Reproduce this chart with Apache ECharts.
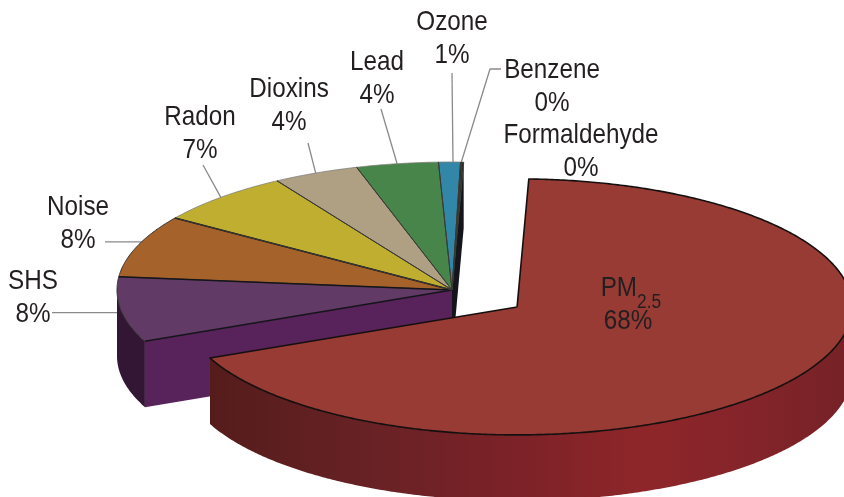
<!DOCTYPE html>
<html>
<head>
<meta charset="utf-8">
<script src="https://cdn.jsdelivr.net/npm/echarts@6/dist/echarts.min.js"></script>
<style>
html, body { margin: 0; padding: 0; background: #fff; }
#chart { width: 844px; height: 497px; }
</style>
</head>
<body>
<div id="chart"></div>
<script>
const categories = ['PM2.5', 'SHS', 'Noise', 'Radon', 'Dioxins', 'Lead', 'Ozone', 'Benzene', 'Formaldehyde']
const values = [67.9, 8.2, 7.85, 6.75, 4.15, 3.95, 1.05, 0.075, 0.075]
const percentLabels = ['68%', '8%', '8%', '7%', '4%', '4%', '1%', '0%', '0%']

// look of the slices
const topColors = ['#973b34', '#613a66', '#a5622b', '#bfae30', '#afa084', '#47854b', '#3287a8', '#14161c', '#14161c']
const wallColors = ['#7a2226', '#331634', '#6b3f1a', '#7a6f1f', '#70664f', '#2c5530', '#1f566b', '#14161c', '#14161c']
const cutFaceColors = { first: '#58225a', last: '#14161c' }

// pie projection
const cx = 452, cy = 290, rx = 335, ry = 128, depth = 66
const startAngle = 2.0, explode = 0.235

// where the texts sit
const labelX = [628, 33, 78, 200, 289, 377, 452, 552, 581]
const labelY = [288, 281, 207, 117, 89, 62, 22, 70, 135]
const leaderFrom = [null, [52, null], [105, null], [203, 165], [308, 143], [381, 109], [452, 73], [501, 69], null]
const leaderElbow = [null, null, null, null, null, null, null, [490, 69], null]
const leaderNudge = [0, -1.4, 2, 0, 0, 0, 0.6, 0, 0]

const font = '"Liberation Sans", sans-serif'
const textScale = 0.866
const total = values.reduce((a, b) => a + b, 0)

const angles = []
let acc = startAngle
values.forEach(v => {
  const span = v / total * 360
  angles.push([acc, acc + span])
  acc += span
})

const rad = d => d * Math.PI / 180
const rim = (x0, y0, t) => [x0 + rx * Math.sin(rad(t)), y0 - ry * Math.cos(rad(t))]

const arcPoints = (x0, y0, a, b) => {
  const pts = []
  const n = Math.max(1, Math.ceil((b - a) / 0.5))
  for (let i = 0; i <= n; i++) pts.push(rim(x0, y0, a + (b - a) * i / n))
  return pts
}

// only the first slice is pulled out, along its middle angle
const centerOf = i => {
  if (i !== 0) return [cx, cy]
  const mid = (angles[0][0] + angles[0][1]) / 2
  const p = rim(0, 0, mid)
  return [cx + p[0] * explode, cy + p[1] * explode]
}

const poly = (points, fill, z2) => ({ type: 'polygon', z2, shape: { points }, style: { fill, stroke: null } })
const line = (points, stroke, lineWidth, z2) => ({
  type: 'polyline', z2, shape: { points }, style: { fill: null, stroke, lineWidth, lineJoin: 'round' }
})
const label = (text, x, y, size, align) => ({
  type: 'text',
  z2: 50,
  x,
  y,
  scaleX: textScale,
  style: {
    x: 0,
    y: 0,
    text,
    align: align || 'center',
    verticalAlign: 'middle',
    font: size + 'px ' + font,
    fill: '#231f20'
  }
})

const wallGradient = new echarts.graphic.LinearGradient(212, 0, 844, 0, [
  { offset: 0, color: '#551c1b' },
  { offset: 0.25, color: '#682225' },
  { offset: 0.48, color: '#7c2228' },
  { offset: 0.68, color: '#8e2629' },
  { offset: 0.85, color: '#84242a' },
  { offset: 1, color: '#762226' }
], true)

const renderSlice = (params, api) => {
  const i = params.dataIndex
  const [a, b] = angles[i]
  const [x0, y0] = centerOf(i)
  const base = i === 0 ? 30 : 10
  const children = []

  // outer wall, front half only
  const wa = Math.max(a, 90), wb = Math.min(b, 270)
  if (wb > wa) {
    const upper = arcPoints(x0, y0, wa, wb)
    const lower = upper.map(p => [p[0], p[1] + depth]).reverse()
    children.push(poly(upper.concat(lower), i === 0 ? wallGradient : wallColors[i], base))
  }

  // cut faces of the group that stays behind
  if (i === 1 || i === values.length - 1) {
    const t = i === 1 ? a : b
    const p = rim(x0, y0, t)
    const pts = [[x0, y0], p, [p[0], p[1] + depth], [x0, y0 + depth]]
    children.push(poly(pts, i === 1 ? cutFaceColors.first : cutFaceColors.last, base + 1))
  }

  // top surface
  const arc = arcPoints(x0, y0, a, b)
  children.push(poly([[x0, y0]].concat(arc), topColors[i], base + 2))

  const first = arc[0], last = arc[arc.length - 1]
  if (i === 0) {
    children.push(line([[x0, y0]].concat(arc, [[x0, y0]]), '#15100f', 1.6, base + 3))
  } else {
    const dark = i <= 2
    children.push(line(arc, dark ? '#333' : '#7d7d78', dark ? 1 : 0.8, base + 3))
    children.push(line([first, [x0, y0]], dark ? '#15141a' : '#3a3a35', dark ? 1.5 : 1, base + 4))
    children.push(line([[x0, y0], last], i === 2 ? '#15141a' : '#3a3a35', i === 2 ? 1.5 : 1, base + 4))
  }

  // leader line up to the rim
  if (leaderFrom[i]) {
    const end = rim(x0, y0, (a + b) / 2 + leaderNudge[i])
    const from = [leaderFrom[i][0], leaderFrom[i][1] === null ? end[1] : leaderFrom[i][1]]
    const pts = leaderElbow[i] ? [from, leaderElbow[i], end] : [from, end]
    children.push(line(pts, '#8a8a8a', 1.3, 5))
  }

  // name and percent, PM2.5 gets a real subscript
  const lx = labelX[i], ly = labelY[i]
  if (categories[i] === 'PM2.5') {
    children.push(label('PM', lx + 9, ly, 28, 'right'))
    children.push(label('2.5', lx + 9, ly + 14, 20, 'left'))
  } else {
    children.push(label(categories[i], lx, ly, 28))
  }
  children.push(label(percentLabels[i], lx, ly + 33, 28))

  return { type: 'group', children }
}

const chart = echarts.init(document.getElementById('chart'), null, { renderer: 'canvas' })
chart.setOption({
  animation: false,
  backgroundColor: '#fff',
  tooltip: { show: false },
  series: [{
    type: 'custom',
    coordinateSystem: 'none',
    silent: true,
    renderItem: renderSlice,
    data: values
  }]
})
</script>
</body>
</html>
